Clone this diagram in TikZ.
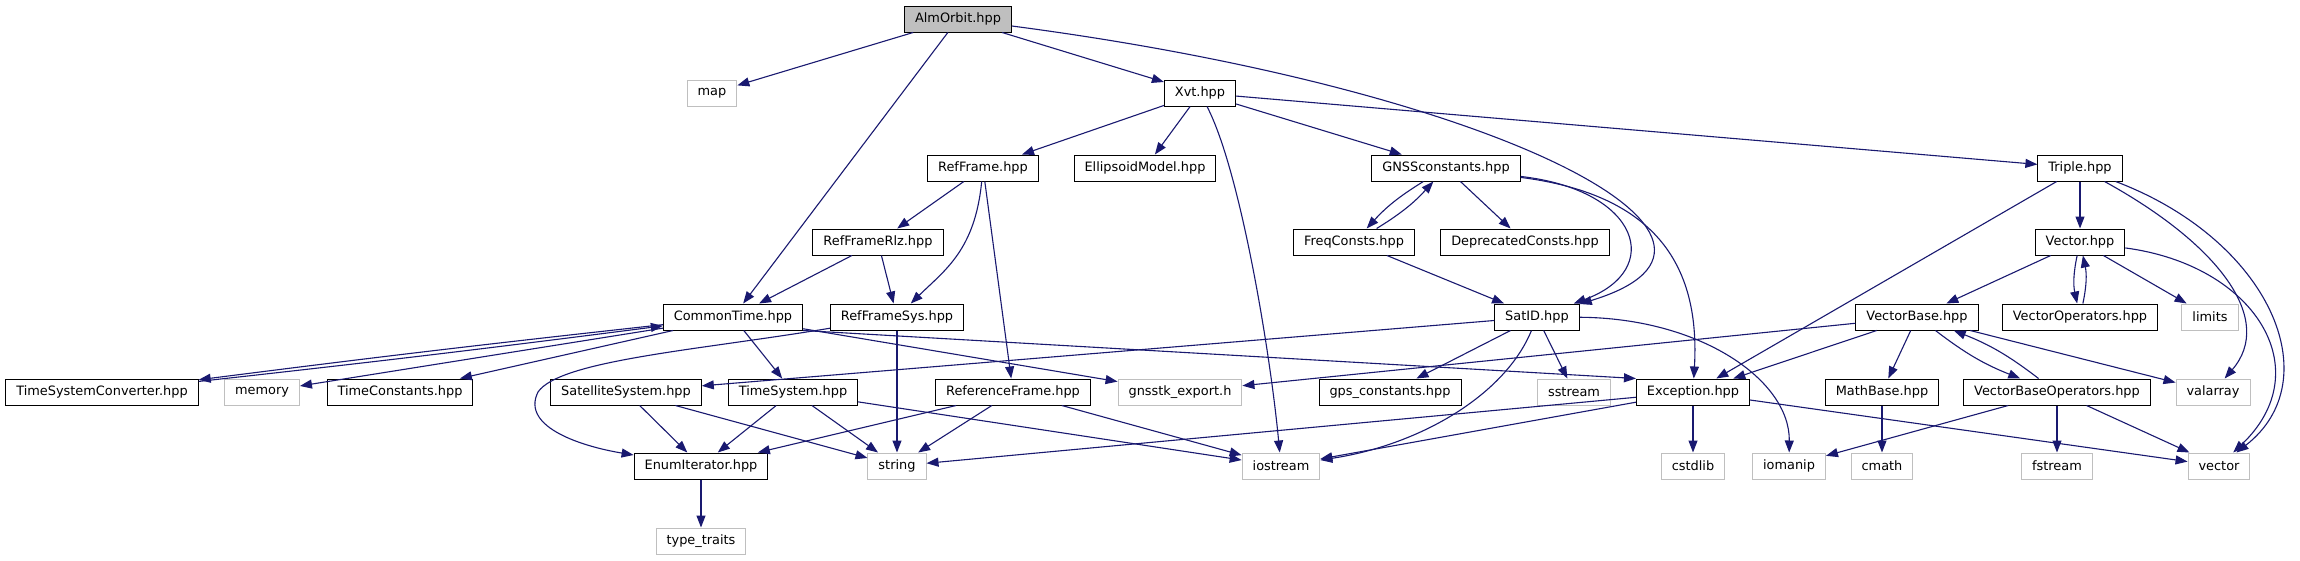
\documentclass[tikz,border=0pt]{standalone}
\usepackage{fontspec}
\setmainfont{DejaVu Sans}
\usetikzlibrary{arrows.meta}
\definecolor{edgeblue}{RGB}{25,25,112}
\definecolor{sysgray}{RGB}{191,191,191}

\begin{document}
\begin{tikzpicture}[x=1pt,y=-1pt,>={Triangle[length=12pt,width=9pt]},
    every node/.style={font=\fontsize{12.9}{15}\selectfont,minimum height=26pt,inner xsep=10.5pt,inner ysep=0pt,line width=1pt},
    hdr/.style={draw=black},
    syshdr/.style={draw=sysgray},
    dep/.style={->,edgeblue,line width=1.1pt}]
    \useasboundingbox[fill=white] (0,0) rectangle (2300,560);

    \node[hdr,fill=sysgray] (almorbit) at (958,19) {AlmOrbit.hpp};

    \node[syshdr] (map) at (712,93) {map};
    \node[hdr] (xvt) at (1200,93) {Xvt.hpp};

    \node[hdr] (refframe) at (983,168) {RefFrame.hpp};
    \node[hdr] (ellipsoid) at (1145,168) {EllipsoidModel.hpp};
    \node[hdr] (gnssconst) at (1446,168) {GNSSconstants.hpp};
    \node[hdr] (triple) at (2080,168) {Triple.hpp};

    \node[hdr] (refrlz) at (878,242) {RefFrameRlz.hpp};
    \node[hdr] (freq) at (1354,242) {FreqConsts.hpp};
    \node[hdr] (deprecated) at (1525,242) {DeprecatedConsts.hpp};
    \node[hdr] (vectorh) at (2080,242) {Vector.hpp};

    \node[hdr] (commontime) at (733,317) {CommonTime.hpp};
    \node[hdr] (refsys) at (897,317) {RefFrameSys.hpp};
    \node[hdr] (satid) at (1537,317) {SatID.hpp};
    \node[hdr] (vectorbase) at (1917,317) {VectorBase.hpp};
    \node[hdr] (vectorops) at (2080,317) {VectorOperators.hpp};
    \node[syshdr] (limits) at (2210,317) {limits};

    \node[hdr] (tsc) at (102,392) {TimeSystemConverter.hpp};
    \node[syshdr] (memory) at (262,392) {memory};
    \node[hdr] (timeconst) at (400,392) {TimeConstants.hpp};
    \node[hdr] (satsys) at (626,392) {SatelliteSystem.hpp};
    \node[hdr] (timesys) at (793,392) {TimeSystem.hpp};
    \node[hdr] (referenceframe) at (1013,392) {ReferenceFrame.hpp};
    \node[syshdr] (gnsstkexport) at (1180,392) {gnsstk\_export.h};
    \node[hdr] (gpsconst) at (1390,392) {gps\_constants.hpp};
    \node[syshdr] (sstream) at (1574,392) {sstream};
    \node[hdr] (exception) at (1693,392) {Exception.hpp};
    \node[hdr] (mathbase) at (1882,392) {MathBase.hpp};
    \node[hdr] (vbops) at (2057,392) {VectorBaseOperators.hpp};
    \node[syshdr] (valarray) at (2213,392) {valarray};

    \node[hdr] (enumit) at (701,466) {EnumIterator.hpp};
    \node[syshdr] (string) at (897,466) {string};
    \node[syshdr] (iostream) at (1281,466) {iostream};
    \node[syshdr] (cstdlib) at (1693,466) {cstdlib};
    \node[syshdr] (iomanip) at (1789,466) {iomanip};
    \node[syshdr] (cmath) at (1882,466) {cmath};
    \node[syshdr] (fstream) at (2057,466) {fstream};
    \node[syshdr] (vector) at (2219,466) {vector};

    \node[syshdr] (typetraits) at (701,541) {type\_traits};

    \draw[dep] (almorbit) -- (map);
    \draw[dep] (almorbit) -- (commontime);
    \draw[dep] (almorbit) -- (xvt);
    \draw[dep] (almorbit) .. controls (1500,90) and (1790,240) .. (satid);

    \draw[dep] (xvt) -- (refframe);
    \draw[dep] (xvt) -- (ellipsoid);
    \draw[dep] (xvt) -- (gnssconst);
    \draw[dep] (xvt) -- (triple);
    \draw[dep] (xvt) .. controls (1240,170) and (1270,350) .. (iostream);

    \draw[dep] (refframe) -- (refrlz);
    \draw[dep] (refframe) .. controls (975,250) and (945,270) .. (refsys);
    \draw[dep] (refframe) -- (referenceframe);
    \draw[dep] (refrlz) -- (commontime);
    \draw[dep] (refrlz) -- (refsys);

    \draw[dep] (gnssconst) to[bend right=8] (freq);
    \draw[dep] (freq) to[bend right=8] (gnssconst);
    \draw[dep] (gnssconst) -- (deprecated);
    \draw[dep] (gnssconst) .. controls (1640,190) and (1665,270) .. (satid);
    \draw[dep] (gnssconst) .. controls (1660,195) and (1700,270) .. (exception);
    \draw[dep] (freq) -- (satid);

    \draw[dep] (triple) -- (exception);
    \draw[dep] (triple) -- (vectorh);
    \draw[dep] (triple) .. controls (2220,245) and (2275,320) .. (valarray);
    \draw[dep] (triple) .. controls (2270,240) and (2330,380) .. (vector);

    \draw[dep] (vectorh) -- (vectorbase);
    \draw[dep] (vectorh) to[bend right=12] (vectorops);
    \draw[dep] (vectorops) to[bend right=12] (vectorh);
    \draw[dep] (vectorh) -- (limits);
    \draw[dep] (vectorh) .. controls (2255,265) and (2320,370) .. (vector);

    \draw[dep] (commontime) to[bend right=0.5] (tsc);
    \draw[dep] (tsc) to[bend right=0.5] (commontime);
    \draw[dep] (commontime) -- (memory);
    \draw[dep] (commontime) -- (timeconst);
    \draw[dep] (commontime) -- (timesys);
    \draw[dep] (commontime) -- (gnsstkexport);
    \draw[dep] (commontime.south east) -- (exception.north west);

    \draw[dep] (refsys) .. controls (700,350) and (560,360) .. (538,392) .. controls (520,428) and (585,447) .. (enumit);
    \draw[dep] (refsys) -- (string);

    \draw[dep] (satid) -- (satsys);
    \draw[dep] (satid) -- (gpsconst);
    \draw[dep] (satid) -- (sstream);
    \draw[dep] (satid) .. controls (1505,395) and (1420,445) .. (iostream);
    \draw[dep] (satid) .. controls (1700,318) and (1790,380) .. (iomanip);

    \draw[dep] (vectorbase) -- (gnsstkexport);
    \draw[dep] (vectorbase) -- (exception);
    \draw[dep] (vectorbase) -- (mathbase);
    \draw[dep] (vectorbase) to[bend right=8] (vbops);
    \draw[dep] (vbops) to[bend right=8] (vectorbase);
    \draw[dep] (vectorbase) -- (valarray);

    \draw[dep] (satsys) -- (enumit);
    \draw[dep] (satsys) -- (string);
    \draw[dep] (timesys) -- (enumit);
    \draw[dep] (timesys) -- (string);
    \draw[dep] (timesys) -- (iostream);
    \draw[dep] (referenceframe) -- (enumit);
    \draw[dep] (referenceframe) -- (string);
    \draw[dep] (referenceframe) -- (iostream);

    \draw[dep] (exception) -- (string);
    \draw[dep] (exception) -- (iostream);
    \draw[dep] (exception) -- (cstdlib);
    \draw[dep] (exception) -- (vector);
    \draw[dep] (mathbase) -- (cmath);
    \draw[dep] (vbops) -- (iomanip);
    \draw[dep] (vbops) -- (fstream);
    \draw[dep] (vbops) -- (vector);
    \draw[dep] (enumit) -- (typetraits);
\end{tikzpicture}
\end{document}
